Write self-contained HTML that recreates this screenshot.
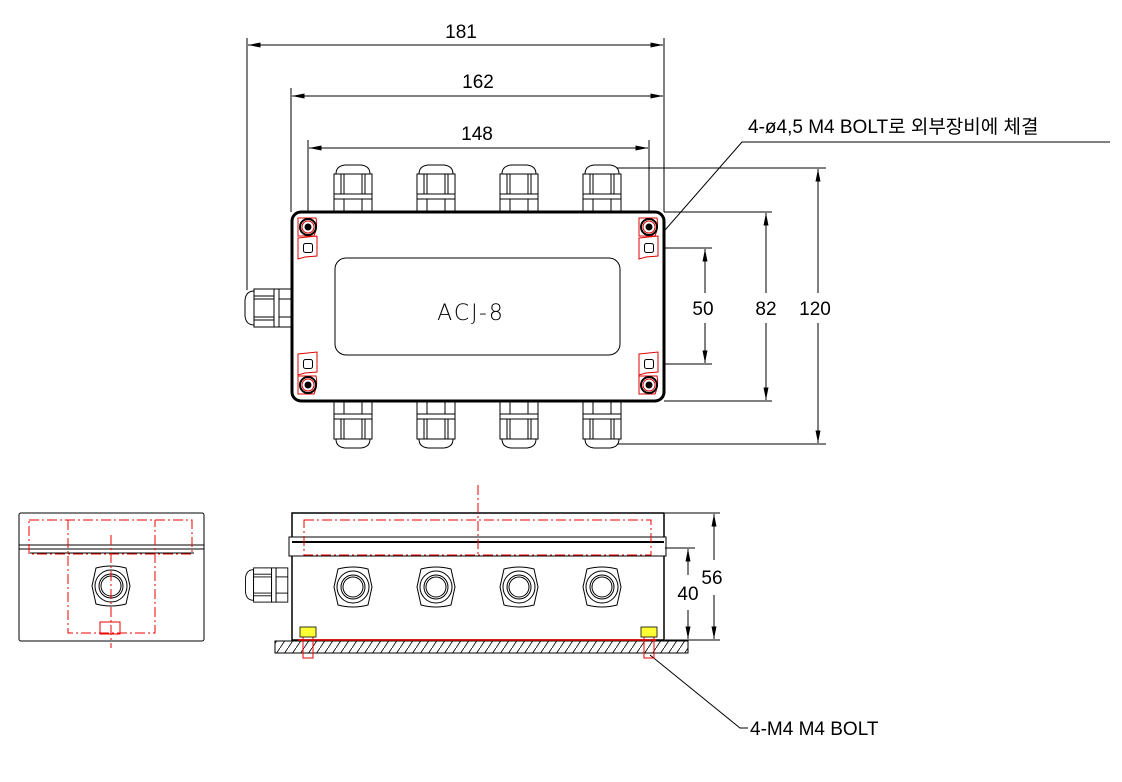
<!DOCTYPE html>
<html><head><meta charset="utf-8"><style>
html,body{margin:0;padding:0;background:#fff;}
svg{display:block}
text{font-family:"Liberation Sans","Noto Sans CJK KR",sans-serif;fill:#000}
</style></head><body>
<svg width="1122" height="782" viewBox="0 0 1122 782" xmlns="http://www.w3.org/2000/svg">
<defs>
<marker id="a" viewBox="0 0 10 4" refX="10" refY="2" markerWidth="16" markerHeight="5" orient="auto-start-reverse" markerUnits="userSpaceOnUse"><path d="M0,0L10,2L0,4z" fill="#000"/></marker>
<g id="gt" fill="#fff" stroke="#000" stroke-width="1">
<path d="M-17,8 Q-17,0 -8,-1 L8,-1 Q17,0 17,8 Z"/>
<rect x="-19" y="8" width="38" height="20"/>
<line x1="-12" y1="8" x2="-12" y2="28"/><line x1="-9" y1="8" x2="-9" y2="28"/>
<line x1="9" y1="8" x2="9" y2="28"/><line x1="12" y1="8" x2="12" y2="28"/>
<rect x="-19" y="28" width="38" height="5"/>
<rect x="-19" y="33" width="38" height="13"/>
<line x1="-9" y1="33" x2="-9" y2="46"/><line x1="9" y1="33" x2="9" y2="46"/>
</g>
<g id="hole" stroke="#d00" fill="none" stroke-width="1">
<path d="M-10,-9 L8,-9 Q10,0 6,9 L-10,9 Z" stroke="#d00"/>
<circle r="8" stroke="#000" stroke-width="2"/>
<circle r="3.5" fill="#000" stroke="none"/>
<circle r="6" stroke="#d00"/>
</g>
<g id="slot" fill="none" stroke-width="1">
<path d="M-10,-10 L9,-12 L9,8 L-3,9 L-10,11 Z" stroke="#d00"/>
<rect x="-4.5" y="-4.5" width="9" height="9" rx="2" stroke="#000"/>
</g>
<g id="nut" fill="none" stroke="#000" stroke-width="1">
<path d="M-19,0 L-15,-18 Q0,-22 15,-18 L19,0 L15,18 Q0,22 -15,18 Z"/>
<circle r="16"/><circle r="12"/><circle r="10"/>
</g>
<pattern id="h" width="8" height="12" patternUnits="userSpaceOnUse"><line x1="0" y1="12" x2="8" y2="0" stroke="#000" stroke-width="0.8"/></pattern>
</defs>
<g stroke="#000" stroke-width="1" fill="none">
<line x1="247" y1="38" x2="247" y2="290"/><line x1="664" y1="38" x2="664" y2="212"/>
<line x1="248" y1="45" x2="663" y2="45" marker-start="url(#a)" marker-end="url(#a)"/>
<line x1="291" y1="88" x2="291" y2="212"/>
<line x1="292" y1="96" x2="663" y2="96" marker-start="url(#a)" marker-end="url(#a)"/>
<line x1="308" y1="140" x2="308" y2="228"/><line x1="649" y1="140" x2="649" y2="228"/>
<line x1="309" y1="148" x2="648" y2="148" marker-start="url(#a)" marker-end="url(#a)"/>
<line x1="616" y1="168" x2="826" y2="168"/><line x1="616" y1="444" x2="826" y2="444"/>
<line x1="664" y1="212" x2="772" y2="212"/><line x1="664" y1="401" x2="772" y2="401"/>
<line x1="656" y1="248" x2="712" y2="248"/><line x1="656" y1="364" x2="712" y2="364"/>
<line x1="705" y1="249" x2="705" y2="293" marker-start="url(#a)"/><line x1="705" y1="323" x2="705" y2="363" marker-end="url(#a)"/>
<line x1="766" y1="213" x2="766" y2="293" marker-start="url(#a)"/><line x1="766" y1="323" x2="766" y2="400" marker-end="url(#a)"/>
<line x1="818" y1="169" x2="818" y2="293" marker-start="url(#a)"/><line x1="818" y1="323" x2="818" y2="443" marker-end="url(#a)"/>
<polyline points="1110,142 742,142 624,277"/>
<line x1="630" y1="270" x2="648" y2="250" marker-end="url(#a)"/>
</g>
<use href="#gt" x="353" y="166"/><use href="#gt" x="436" y="166"/><use href="#gt" x="519" y="166"/><use href="#gt" x="602" y="166"/>
<g transform="translate(0,613) scale(1,-1)">
<use href="#gt" x="353" y="166"/><use href="#gt" x="436" y="166"/><use href="#gt" x="519" y="166"/><use href="#gt" x="602" y="166"/>
</g>
<g transform="translate(246,308) rotate(-90)"><use href="#gt" x="0" y="0"/></g>
<rect x="292" y="212" width="372" height="189" rx="9" fill="#fff" stroke="#000" stroke-width="3"/>
<rect x="335" y="258" width="285" height="97" rx="11" fill="none" stroke="#000" stroke-width="1"/>
<text x="471" y="320" font-size="22" text-anchor="middle" letter-spacing="2" style="font-family:'DejaVu Sans',sans-serif;font-weight:200">ACJ-8</text>
<use href="#hole" x="308" y="227"/><use href="#hole" x="649" y="227"/>
<use href="#hole" x="308" y="385"/><use href="#hole" x="649" y="385"/>
<use href="#slot" x="308" y="248"/><use href="#slot" x="649" y="248"/>
<use href="#slot" x="308" y="364"/><use href="#slot" x="649" y="364"/>
<g font-size="19" text-anchor="middle">
<text x="461" y="38">181</text><text x="478" y="88">162</text><text x="477" y="140">148</text>
<text x="703" y="315">50</text><text x="766" y="315">82</text><text x="815" y="315">120</text>
<text x="712" y="584">56</text><text x="688" y="600">40</text>
</g>
<text x="748" y="133" font-size="19">4-ø4,5 M4 BOLT로 외부장비에 체결</text>
<text x="750" y="735" font-size="19">4-M4 M4 BOLT</text>
<g stroke="#000" stroke-width="1" fill="none">
<rect x="19" y="513" width="185" height="128" rx="2" fill="#fff"/>
<line x1="19" y1="545" x2="204" y2="545"/><line x1="19" y1="549" x2="204" y2="549"/>
<line x1="30" y1="553" x2="194" y2="553"/>
<use href="#nut" x="111" y="586"/>
</g>
<g stroke="#e00" stroke-width="1" fill="none" stroke-dasharray="10,3,2,3">
<rect x="29" y="520" width="163" height="34"/>
<polyline points="68,520 68,633 155,633 155,520"/>
<line x1="111" y1="535" x2="111" y2="648"/>
</g>
<rect x="100" y="622" width="20" height="12" fill="none" stroke="#e00"/>
<g stroke="#000" stroke-width="1" fill="none">
<rect x="292" y="513" width="372" height="127" fill="#fff" stroke-width="1.5"/>
<rect x="289" y="537" width="377" height="19" fill="#fff"/>
<line x1="292" y1="542" x2="664" y2="542" stroke-width="2"/>
<use href="#nut" x="353" y="587"/><use href="#nut" x="436" y="587"/><use href="#nut" x="519" y="587"/><use href="#nut" x="602" y="587"/>
<rect x="275" y="641" width="413" height="12" fill="url(#h)"/>
<line x1="665" y1="513" x2="720" y2="513"/><line x1="665" y1="548" x2="695" y2="548"/>
<line x1="665" y1="640" x2="720" y2="640"/>
<line x1="688" y1="549" x2="688" y2="575" marker-start="url(#a)"/><line x1="688" y1="610" x2="688" y2="639" marker-end="url(#a)"/>
<line x1="714" y1="514" x2="714" y2="560" marker-start="url(#a)"/><line x1="714" y1="595" x2="714" y2="639" marker-end="url(#a)"/>
<polyline points="650,655 740,728 748,728"/>
</g>
<g transform="translate(268,585) rotate(-90)"><g transform="scale(0.9)"><use href="#gt" x="0" y="-24"/></g></g>
<g stroke="#e00" stroke-width="1" fill="none" stroke-dasharray="10,3,2,3">
<rect x="304" y="520" width="347" height="35"/>
<line x1="478" y1="485" x2="478" y2="556"/>
</g>
<line x1="298" y1="640" x2="656" y2="640" stroke="#e00" stroke-width="1.5"/>
<g stroke="#e00" stroke-width="1" fill="none">
<rect x="303" y="628" width="10" height="30"/><rect x="644" y="628" width="10" height="30"/>
</g>
<rect x="300" y="627" width="16" height="10" fill="#ff3" stroke="#000" stroke-width="0.8"/>
<rect x="641" y="627" width="16" height="10" fill="#ff3" stroke="#000" stroke-width="0.8"/>
</svg>
</body></html>
